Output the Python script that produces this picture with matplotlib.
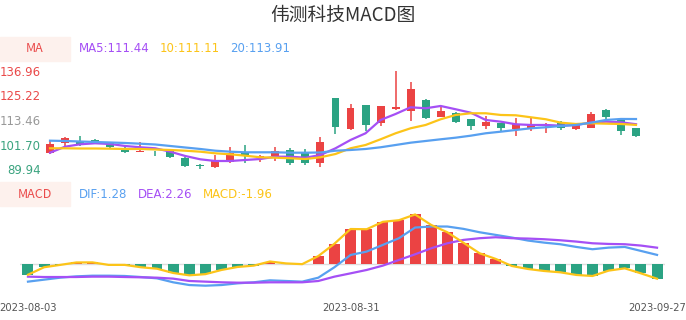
import matplotlib.pyplot as plt
import numpy as np

plt.rcParams['font.family'] = ['Noto Sans CJK SC', 'DejaVu Sans']

up_color = '#eb4343'
down_color = '#2ba383'
ma5_color = '#a54ff5'
ma10_color = '#fcc419'
ma20_color = '#58a0f0'

dates = ['2023-08-03', '2023-08-31', '2023-09-27']
date_idx = [0, 20, 39]

opens = [97.6, 102.4, 103.4, 103.9, 102.4, 99.5, 98.1, 97.7, 98.7, 95.2,
         91.8, 91.2, 93.6, 98.1, 95.5, 96.3, 99.2, 98.3, 92.8, 123.8,
         109.2, 120.6, 112.2, 118.6, 117.8, 123.0, 115.0, 116.9, 113.9, 110.7,
         111.9, 109.2, 109.5, 110.5, 112.2, 109.0, 109.8, 118.2, 113.5, 109.5]
closes = [101.9, 104.7, 101.9, 102.4, 100.7, 98.1, 98.8, 97.5, 96.0, 91.7,
          91.6, 94.0, 97.6, 96.3, 96.3, 98.7, 93.1, 93.1, 103.1, 110.0,
          119.0, 111.1, 120.1, 119.8, 128.2, 114.6, 117.8, 112.7, 110.6, 112.7,
          109.5, 111.4, 111.4, 110.7, 109.5, 111.4, 116.3, 115.0, 108.4, 106.0]
highs = [103.9, 105.5, 105.8, 104.2, 102.6, 100.7, 103.0, 98.7, 99.2, 96.0,
         92.5, 96.8, 100.7, 101.5, 96.8, 100.4, 100.0, 99.5, 105.2, 123.9,
         121.1, 120.8, 120.3, 136.96, 131.7, 123.5, 120.1, 117.1, 114.1, 115.4,
         112.1, 114.6, 114.6, 111.9, 113.0, 111.5, 117.1, 118.6, 113.9, 109.6]
lows = [97.1, 100.7, 101.1, 102.0, 100.3, 97.6, 98.0, 96.3, 95.2, 90.9,
        89.94, 90.4, 93.1, 93.1, 93.6, 94.0, 92.0, 92.0, 90.9, 106.6,
        108.9, 108.2, 110.7, 118.3, 113.0, 113.9, 114.9, 111.9, 108.7, 109.0,
        108.2, 106.0, 108.4, 107.1, 108.7, 108.6, 109.5, 113.8, 106.3, 105.2]

ma5 = [97.86, 100.72, 101.87, 102.35, 102.01, 101.06, 100.44, 99.96, 98.34, 96.29,
       94.71, 93.90, 93.90, 94.38, 94.85, 95.95, 95.95, 95.47, 96.76, 99.96,
       103.92, 107.12, 113.46, 116.32, 119.52, 119.04, 120.14, 118.57, 116.94, 113.46,
       112.65, 111.41, 111.08, 111.08, 110.74, 111.08, 112.17, 112.65, 112.36, 111.44]
ma10 = [99.96, 99.96, 99.86, 99.86, 99.77, 99.63, 99.63, 99.39, 99.15, 98.81,
        98.34, 97.57, 97.10, 96.43, 95.67, 95.47, 95.19, 94.85, 95.67, 97.24,
        99.96, 101.53, 104.25, 107.12, 109.50, 111.08, 113.80, 115.85, 116.66, 116.66,
        115.85, 115.70, 114.75, 113.80, 112.17, 111.55, 111.89, 111.70, 111.55, 111.11]
ma20 = [103.59, 103.44, 103.20, 102.96, 102.73, 102.49, 102.15, 101.77, 101.06, 100.34,
        99.63, 98.81, 98.34, 98.05, 98.05, 98.05, 97.86, 97.86, 97.96, 98.81,
        99.15, 99.63, 100.44, 101.53, 102.63, 103.44, 104.25, 105.02, 105.97, 107.12,
        107.88, 108.69, 109.50, 109.98, 110.60, 111.08, 112.17, 113.46, 113.94, 113.91]

dif = [-2.36, -2.09, -1.82, -1.64, -1.55, -1.55, -1.59, -1.73, -1.91, -2.45,
       -2.82, -2.91, -2.82, -2.59, -2.45, -2.18, -2.27, -2.36, -1.82, -0.40,
       1.27, 1.73, 2.64, 3.55, 5.00, 5.14, 5.14, 4.82, 4.36, 4.00,
       3.64, 3.23, 2.95, 2.73, 2.36, 2.05, 2.27, 2.36, 1.82, 1.28]
dea = [-1.68, -1.73, -1.73, -1.73, -1.68, -1.68, -1.73, -1.77, -1.82, -1.95,
       -2.27, -2.36, -2.45, -2.50, -2.50, -2.45, -2.45, -2.45, -2.27, -1.68,
       -1.23, -0.77, -0.18, 0.59, 1.36, 2.18, 2.86, 3.32, 3.55, 3.68,
       3.55, 3.50, 3.41, 3.27, 3.09, 2.86, 2.77, 2.73, 2.55, 2.26]
macd = [-1.42, -0.40, -0.08, 0.25, 0.26, -0.08, -0.08, -0.40, -0.60, -1.18,
        -1.50, -1.34, -0.77, -0.36, -0.18, 0.38, 0.12, 0.02, 1.12, 2.80,
        4.80, 4.77, 5.78, 6.00, 6.78, 5.35, 4.36, 2.93, 1.50, 0.73,
        -0.23, -0.64, -0.91, -1.09, -1.45, -1.59, -0.86, -0.55, -1.23, -1.96]

price_ticks = [89.94, 101.70, 113.46, 125.22, 136.96]
tick_colors = ['#3aa37f', '#3aa37f', '#999999', '#ea4a4a', '#ea4a4a']

x = np.arange(len(opens))
o = np.array(opens)
c = np.array(closes)
cols = [up_color if cc > oo else down_color for oo, cc in zip(o, c)]

fig = plt.figure(figsize=(6.86, 3.2), dpi=100)

fig.text(0.5, 0.953, '伟测科技MACD图', ha='center', va='center', fontsize=13.5, color='#333333')

# price panel
ax = fig.add_axes([42.5/686, 1-169.3/320, 601/686, 98.6/320])
ax.vlines(x, lows, highs, colors=cols, linewidth=1.1, zorder=2)
ax.bar(x, np.maximum(np.abs(c-o), 0.35), bottom=np.minimum(o, c), width=0.53,
       color=cols, zorder=3)
ax.plot(x, ma5, color=ma5_color, lw=1.6, zorder=4)
ax.plot(x, ma10, color=ma10_color, lw=1.6, zorder=4)
ax.plot(x, ma20, color=ma20_color, lw=1.6, zorder=4)
ax.set_xlim(-0.5, len(x)-0.5)
ax.set_ylim(price_ticks[0], price_ticks[-1])
ax.set_yticks(price_ticks)
ax.set_yticklabels(['%.2f' % t for t in price_ticks], fontsize=8.5, family='DejaVu Sans')
for lab, col in zip(ax.get_yticklabels(), tick_colors):
    lab.set_color(col)
ax.tick_params(axis='y', length=0, pad=1)
ax.set_xticks([])
for s in ax.spines.values():
    s.set_visible(False)
for a in ax.get_children():
    if hasattr(a, 'set_clip_on'):
        a.set_clip_on(False)

# MA legend
fig.patches.append(plt.Rectangle((0, 1-61/320), 70/686, 24/320, transform=fig.transFigure,
                                 color='#fdf1ed', zorder=0))
fig.text(35/686, 1-49/320, 'MA', ha='center', va='center', fontsize=9, color='#ea4a4a')
fig.text(79/686, 1-49/320, 'MA5:%.2f' % ma5[-1], ha='left', va='center', fontsize=8.5, color=ma5_color, family='DejaVu Sans')
fig.text(160/686, 1-49/320, '10:%.2f' % ma10[-1], ha='left', va='center', fontsize=8.5, color=ma10_color, family='DejaVu Sans')
fig.text(230/686, 1-49/320, '20:%.2f' % ma20[-1], ha='left', va='center', fontsize=8.5, color=ma20_color, family='DejaVu Sans')

# macd panel
ax2 = fig.add_axes([19.9/686, 1-293.7/320, 645.2/686, 88.2/320])
mcols = [up_color if m > 0 else down_color for m in macd]
ax2.axhline(0, color='#dddddd', lw=1, zorder=1)
ax2.bar(x, macd, width=0.68, color=mcols, zorder=2)
ax2.plot(x, dif, color=ma20_color, lw=1.6, zorder=3)
ax2.plot(x, dea, color=ma5_color, lw=1.6, zorder=3)
ax2.plot(x, macd, color=ma10_color, lw=1.6, zorder=4)
ax2.set_xlim(-0.5, len(x)-0.5)
ax2.set_ylim(-4, 8)
ax2.set_yticks([])
ax2.set_xticks(date_idx)
ax2.set_xticklabels(dates, fontsize=7.2, color='#555555', family='DejaVu Sans')
ax2.tick_params(axis='x', length=0, pad=7)
for s in ax2.spines.values():
    s.set_visible(False)

fig.patches.append(plt.Rectangle((0, 1-206/320), 70/686, 24/320, transform=fig.transFigure,
                                 color='#fdf1ed', zorder=0))
fig.text(35/686, 1-194/320, 'MACD', ha='center', va='center', fontsize=9, color='#ea4a4a')
fig.text(79/686, 1-194/320, 'DIF:%.2f' % dif[-1], ha='left', va='center', fontsize=8.5, color=ma20_color, family='DejaVu Sans')
fig.text(138/686, 1-194/320, 'DEA:%.2f' % dea[-1], ha='left', va='center', fontsize=8.5, color=ma5_color, family='DejaVu Sans')
fig.text(203/686, 1-194/320, 'MACD:%.2f' % macd[-1], ha='left', va='center', fontsize=8.5, color=ma10_color, family='DejaVu Sans')

fig.savefig('out.png', dpi=100)
